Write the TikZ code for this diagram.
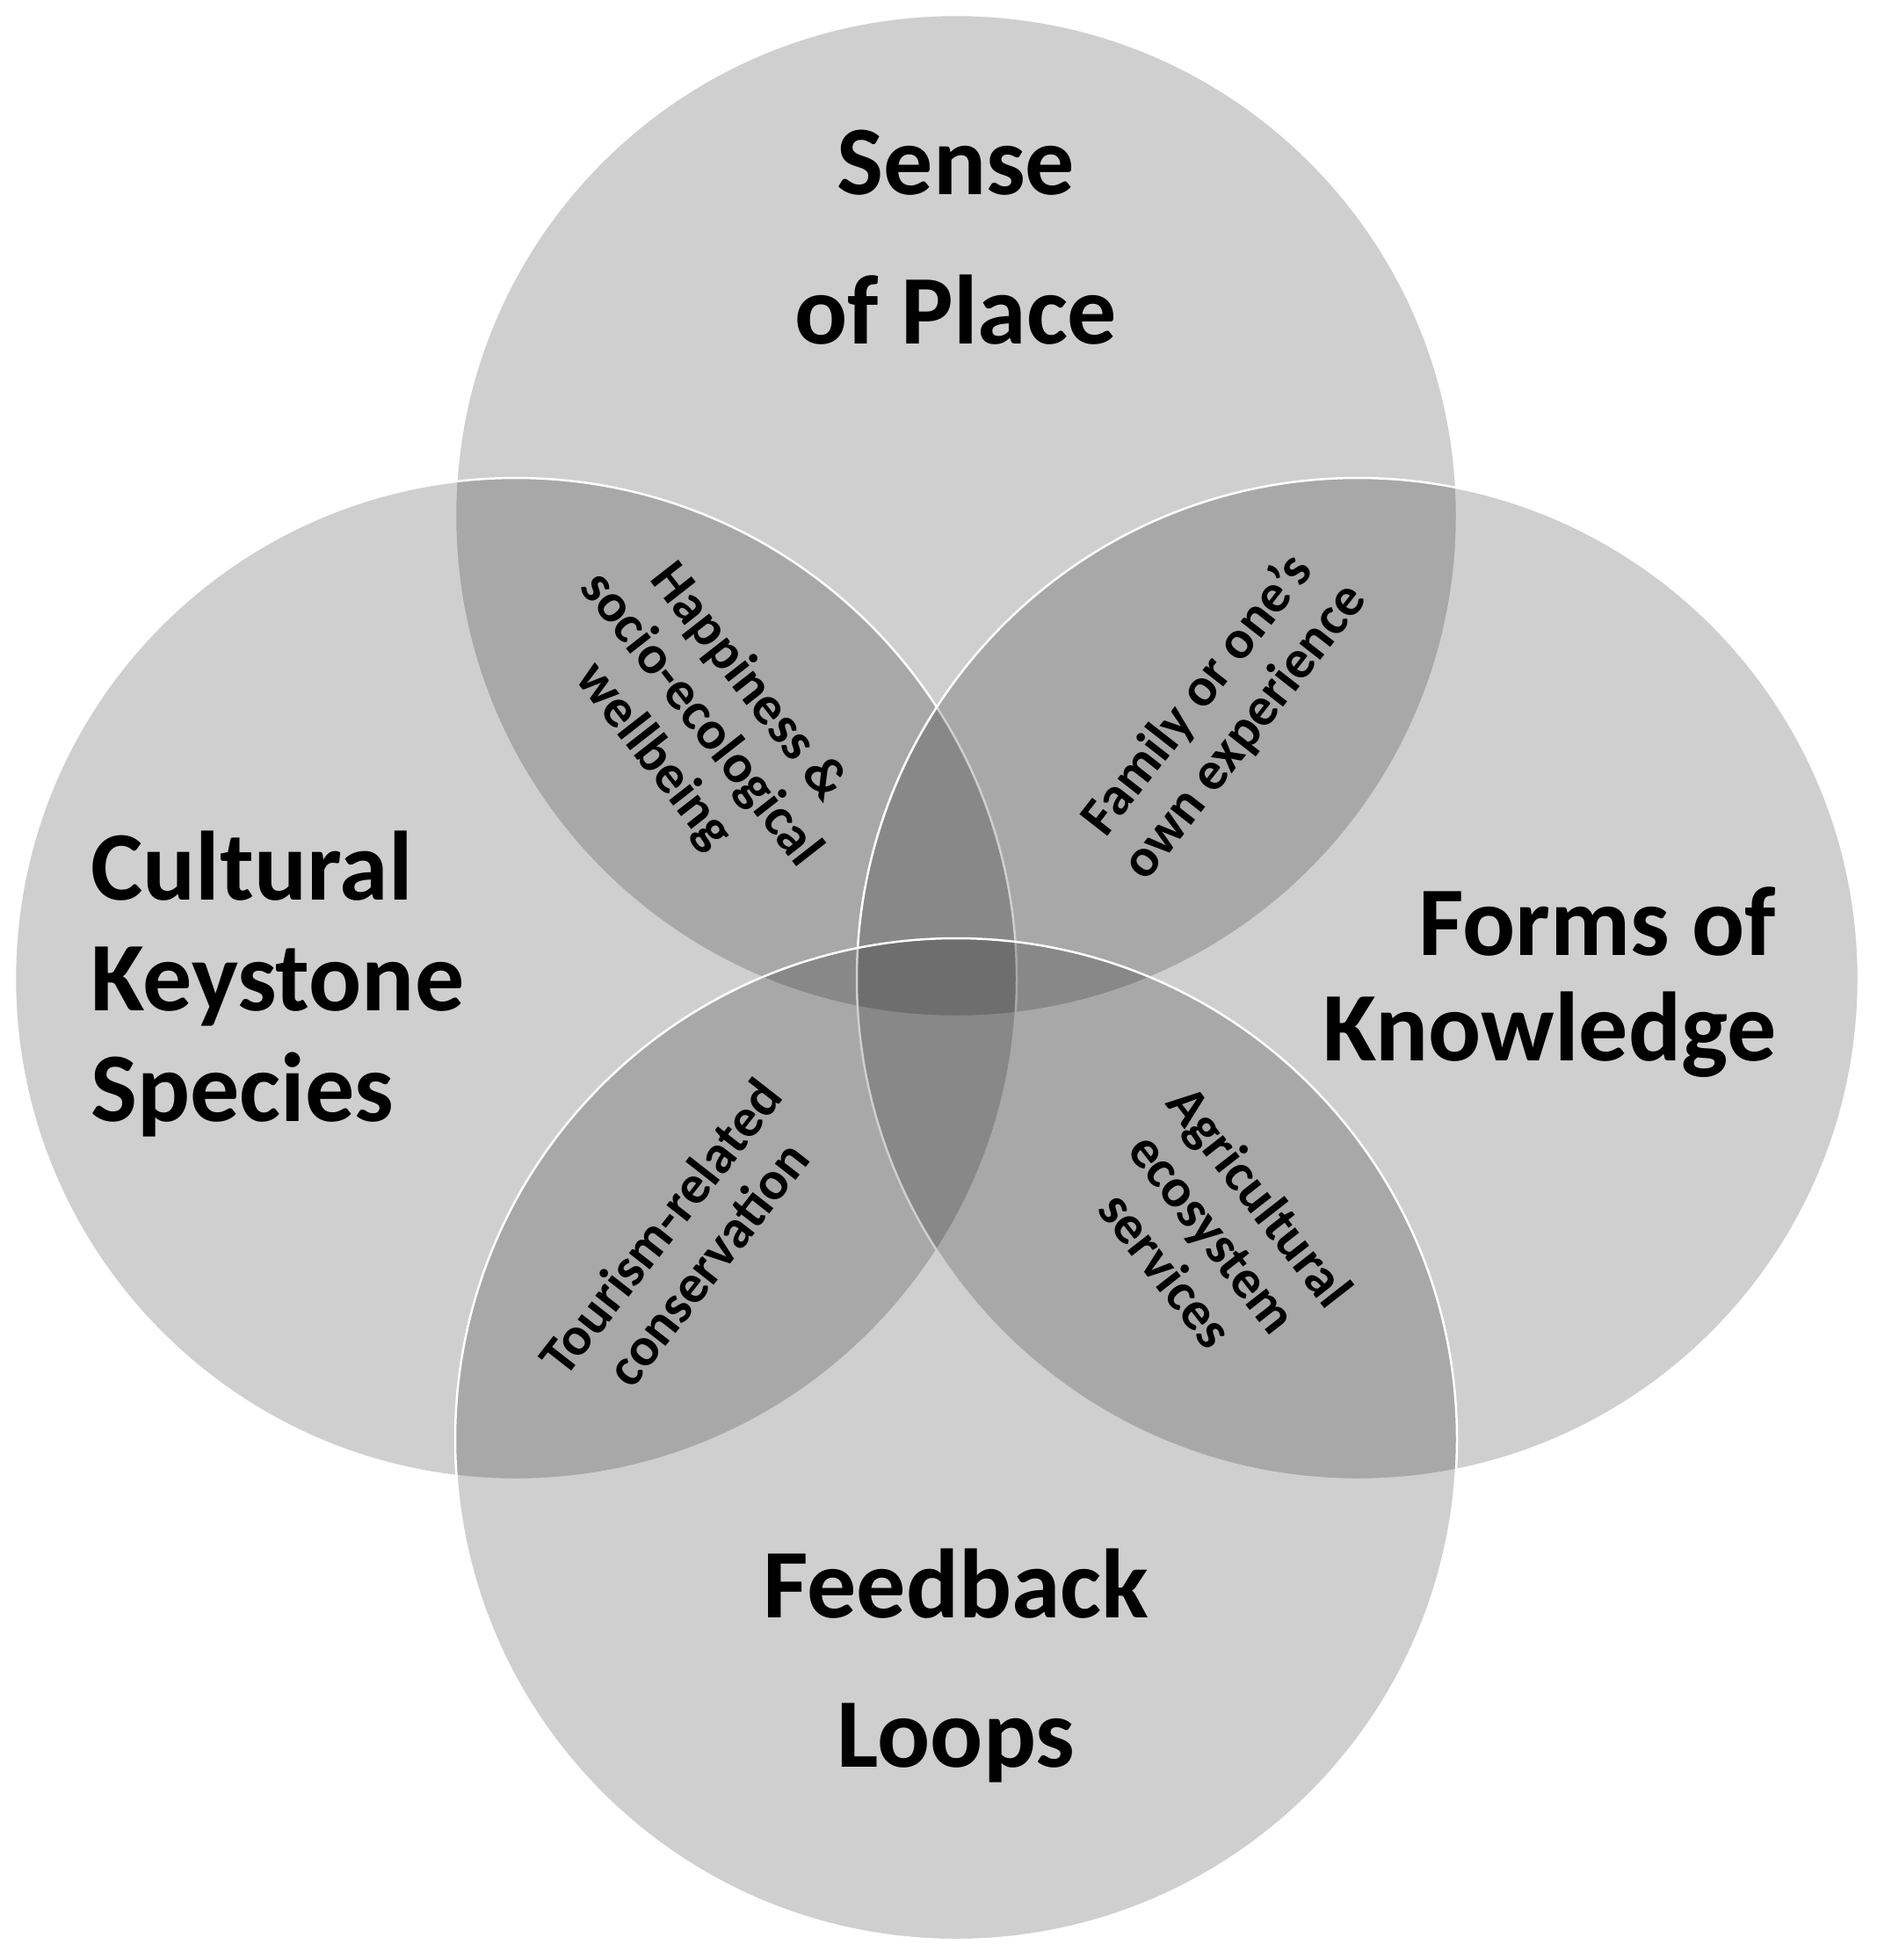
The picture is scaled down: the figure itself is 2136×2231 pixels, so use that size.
\documentclass[tikz,border=0pt]{standalone}
\usepackage{fontspec}
\setmainfont{Carlito}
\tikzset{
 circ/.style={fill=black,fill opacity=0.19,draw=white,draw opacity=1,line width=2.5pt},
 big/.style={font=\fontsize{112}{170}\selectfont\bfseries,text depth=0pt},
 small/.style={font=\fontsize{62}{68}\selectfont\bfseries,align=center}
}
\begin{document}
\begin{tikzpicture}[x=1pt,y=-1pt]
\useasboundingbox (0,0) rectangle (2136,2231);
\fill[white] (0,0) rectangle (2136,2231);
\path[circ] (1088,587) circle (570);
\path[circ] (587,1114) circle (570);
\path[circ] (1545,1114) circle (570);
\path[circ] (1088,1638) circle (570);
\node[big,align=center] (sp) at (1088,270) {Sense\\of Place};
\node[big,align=left,anchor=west] (ck) at (100,1111) {Cultural\\[-44pt]Keystone\\[-44pt]Species};
\node[big,align=right,anchor=east] (fk) at (2025,1109) {Forms of\\[-50pt]Knowledge};
\node[big,align=center] (fl) at (1088,1887) {Feedback\\Loops};
\node[small,rotate=-52] (h) at (797,819) {Happiness \&\\socio-ecological\\wellbeing};
\node[small,rotate=52] (f) at (1390,812) {Family or one’s\\own experience};
\node[small,rotate=52] (t) at (778,1417) {Tourism-related\\conservation};
\node[small,rotate=-52] (a) at (1381,1403) {Agricultural\\ecosystem\\services};
\end{tikzpicture}
\end{document}
